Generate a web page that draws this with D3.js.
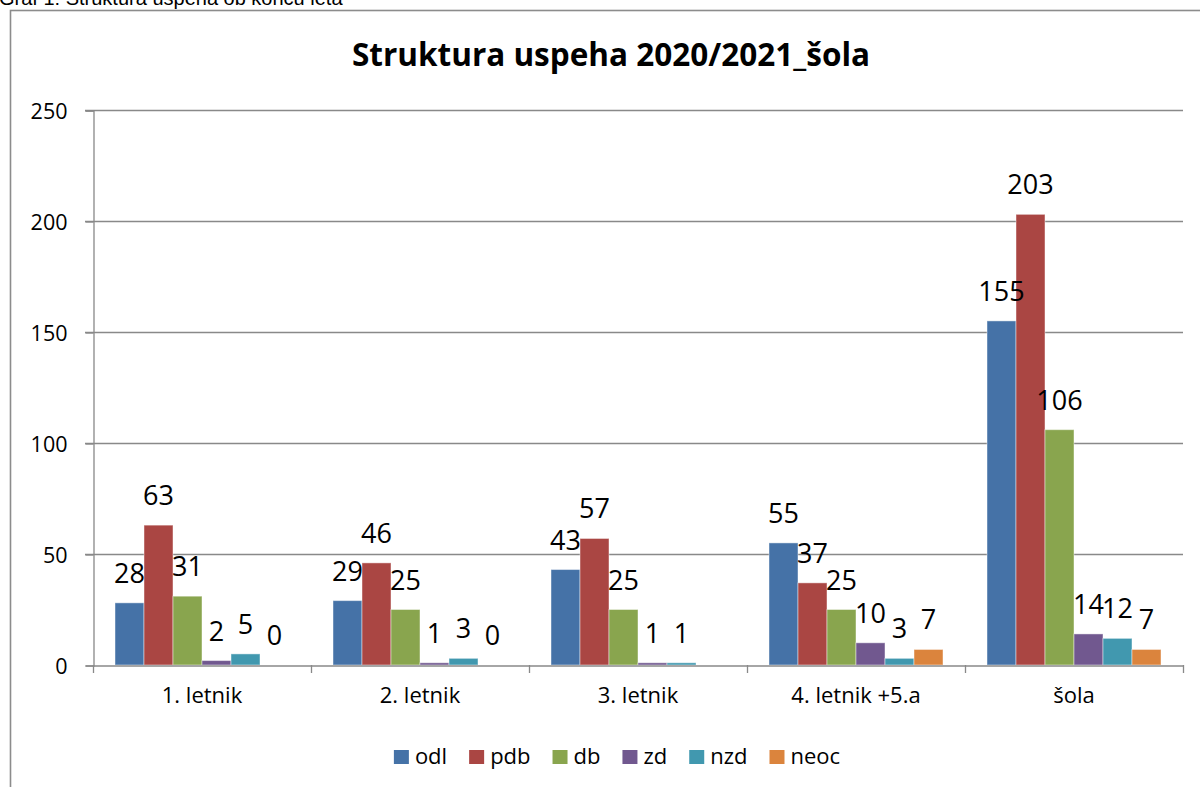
<!DOCTYPE html>
<html>
<head>
<meta charset="utf-8">
<script src="https://cdn.jsdelivr.net/npm/d3@7"></script>
<style>
  body { margin: 0; background: #fff; overflow: hidden; }
  svg { display: block; }
</style>
</head>
<body>
<div id="canvas"></div>
<script>
// Data
var categories = ["1. letnik", "2. letnik", "3. letnik", "4. letnik +5.a", "šola"]
var series_names = ["odl", "pdb", "db", "zd", "nzd", "neoc"]
var odl = [28, 29, 43, 55, 155]
var pdb = [63, 46, 57, 37, 203]
var db = [31, 25, 25, 25, 106]
var zd = [2, 1, 1, 10, 14]
var nzd = [5, 3, 1, 3, 12]
var neoc = [0, 0, null, 7, 7]
var y_ticks = [0, 50, 100, 150, 200, 250]

// Display variables
var total_width = 1200, total_height = 787
var colours = ["#4572A7", "#AA4643", "#89A54E", "#71588F", "#4198AF", "#DB843D"]
var grid_colour = "#898989"
var font = "'Open Sans', 'Noto Sans', sans-serif"
var plot_left = 93, plot_right = 1183, plot_top = 110, plot_bottom = 665

var values = [odl, pdb, db, zd, nzd, neoc]
var rows = []
categories.forEach((c, i) => {
    series_names.forEach((s, j) => {
        if (values[j][i] != null) rows.push({cat: c, series: s, value: values[j][i], colour: colours[j]})
    })
})

var svg = d3.select("#canvas").append("svg").attr("width", total_width).attr("height", total_height)

// Caption above the chart (partly hidden by the page edge, as in the source)
svg.append("text")
    .attr("x", -1).attr("y", 5)
    .style("font-family", "'Liberation Sans', Arial, sans-serif")
    .style("font-size", "20px")
    .attr("fill", "#000")
    .text("Graf 1: Struktura uspeha ob koncu leta")

// Chart frame
svg.append("rect")
    .attr("x", 10.5).attr("y", 10.5)
    .attr("width", 1220).attr("height", 800)
    .attr("fill", "#fff")
    .attr("stroke", "#8c8c8c").attr("stroke-width", 1.6)

// Title
svg.append("text")
    .attr("x", 611).attr("y", 66)
    .attr("text-anchor", "middle")
    .style("font-family", font)
    .style("font-weight", "bold")
    .style("font-size", "31.5px")
    .text("Struktura uspeha 2020/2021_šola")

// Scales
var x0 = d3.scaleBand().domain(categories).range([plot_left, plot_right]).padding(0)
var x1 = d3.scaleBand().domain(series_names).range([22, x0.bandwidth() - 22]).padding(0)
var y = d3.scaleLinear().domain([0, 250]).range([plot_bottom, plot_top])

// Gridlines + y tick stubs
svg.append("g").selectAll("line")
    .data(y_ticks.filter(d => d > 0))
    .enter().append("line")
    .attr("x1", plot_left - 8).attr("x2", plot_right)
    .attr("y1", d => Math.round(y(d)) + 0.5).attr("y2", d => Math.round(y(d)) + 0.5)
    .attr("stroke", grid_colour).attr("stroke-width", 1.3)

// Y axis
var y_axis = svg.append("g")
    .attr("transform", "translate(" + (plot_left + 0.5) + ",0.5)")
    .call(d3.axisLeft(y).tickValues(y_ticks).tickSize(8).tickPadding(18))
y_axis.select(".domain").attr("stroke", grid_colour).attr("stroke-width", 1.3)
y_axis.selectAll(".tick line").attr("stroke", grid_colour).attr("stroke-width", 1.3)
y_axis.selectAll(".tick text")
    .style("font-family", font).style("font-size", "21.5px").attr("fill", "#000").attr("dy", "0.36em")

// Bars
svg.append("g").selectAll("rect")
    .data(rows)
    .enter().append("rect")
    .attr("x", d => x0(d.cat) + x1(d.series))
    .attr("width", x1.bandwidth())
    .attr("y", d => y(d.value))
    .attr("height", d => y(0) - y(d.value))
    .attr("fill", d => d.colour)
    .attr("stroke", "#fff").attr("stroke-opacity", 0.45).attr("stroke-width", 1)

// X axis
var x_axis = svg.append("g")
    .attr("transform", "translate(0," + (plot_bottom + 0.5) + ")")
    .call(d3.axisBottom(x0).tickSize(0).tickPadding(22))
x_axis.select(".domain").attr("stroke", grid_colour).attr("stroke-width", 1.3)
x_axis.selectAll(".tick text")
    .style("font-family", font).style("font-size", "22px").attr("fill", "#000")
// category separators
svg.append("g").selectAll("line")
    .data(categories.map(c => x0(c)).concat([plot_right]))
    .enter().append("line")
    .attr("x1", d => Math.round(d) + 0.5).attr("x2", d => Math.round(d) + 0.5)
    .attr("y1", plot_bottom).attr("y2", plot_bottom + 8)
    .attr("stroke", grid_colour).attr("stroke-width", 1.3)

// Data labels
svg.append("g").selectAll("text")
    .data(rows)
    .enter().append("text")
    .attr("x", d => x0(d.cat) + x1(d.series) + x1.bandwidth() / 2)
    .attr("y", d => y(d.value) - 20)
    .attr("text-anchor", "middle")
    .style("font-family", font).style("font-size", "27px")
    .text(d => d.value)

// Legend
var legend = svg.append("g")
var lx = 0
series_names.forEach((s, j) => {
    var g = legend.append("g").attr("transform", "translate(" + lx + ",0)")
    g.append("rect").attr("x", 0).attr("y", 750).attr("width", 15).attr("height", 14).attr("fill", colours[j])
    var t = g.append("text").attr("x", 21).attr("y", 764)
        .style("font-family", font).style("font-size", "22px").text(s)
    lx += 21 + t.node().getComputedTextLength() + 22
})
var legend_width = lx - 22
legend.attr("transform", "translate(" + (617 - legend_width / 2) + ",0)")
</script>
</body>
</html>
